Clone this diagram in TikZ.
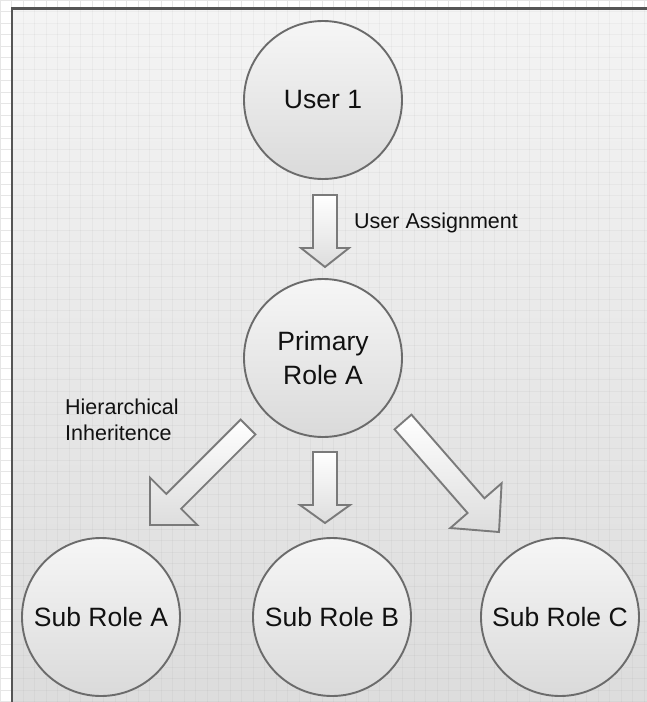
\documentclass[tikz,border=0pt]{standalone}
\usepackage{fontspec}
\setmainfont{Liberation Sans}
\usetikzlibrary{calc}

\definecolor{gridpale}{HTML}{E6E6E6}
\definecolor{paneltop}{HTML}{F4F4F4}
\definecolor{panelbottom}{HTML}{DCDCDC}
\definecolor{frameline}{HTML}{555555}
\definecolor{circleline}{HTML}{6B6B6B}
\definecolor{circletop}{HTML}{F6F6F6}
\definecolor{circlebottom}{HTML}{DADADA}
\definecolor{arrowline}{HTML}{7A7A7A}
\definecolor{arrowbottom}{HTML}{DDDDDD}
\definecolor{ink}{HTML}{111111}

\tikzset{
  role/.style={circle, draw=circleline, line width=1.9pt, minimum size=158pt,
    inner sep=0pt, top color=circletop, bottom color=circlebottom,
    font=\fontsize{26.5}{34}\selectfont, align=center, text=ink},
  lbl/.style={font=\fontsize{21.5}{26}\selectfont, align=left,
    inner sep=0pt, anchor=west, text=ink},
  blockarrow/.style={draw=arrowline, line width=1.9pt, line join=miter,
    top color=white, bottom color=arrowbottom},
  gridout/.style={draw=gridpale, line width=0.8pt},
  gridin/.style={draw=black, draw opacity=0.03, line width=0.8pt},
}

% hollow block arrow: tail, tip, shaft half width, head half width, head length
\newcommand\hollowarrow[5]{%
  \coordinate (hb) at ($(#2)!#5!(#1)$);
  \draw[blockarrow] ($(#1)!#3!90:(#2)$) -- ($(hb)!#3!-90:(#1)$)
    -- ($(hb)!#4!-90:(#1)$) -- (#2) -- ($(hb)!#4!90:(#1)$)
    -- ($(hb)!#3!90:(#1)$) -- ($(#1)!#3!-90:(#2)$) -- cycle;
}

\begin{document}
\begin{tikzpicture}[x=1pt, y=-1pt]
  \useasboundingbox (0,0) rectangle (647,702);
  \clip (0,0) rectangle (647,702);

  % page background with its grid
  \fill[white] (0,0) rectangle (647,702);
  \foreach \i in {0,...,57} \draw[gridout] ({\i*11.5},0) -- ({\i*11.5},702);
  \foreach \j in {0,...,62} \draw[gridout] (0,{\j*11.5}) -- (647,{\j*11.5});

  % the panel
  \shade[top color=paneltop, bottom color=panelbottom] (12,8.5) rectangle (660,715);
  \foreach \i in {2,...,57} \draw[gridin] ({\i*11.5},9) -- ({\i*11.5},702);
  \foreach \j in {1,...,62} \draw[gridin] (12,{\j*11.5}) -- (647,{\j*11.5});
  \draw[frameline, line width=2.6pt] (12,720) -- (12,8.5) -- (660,8.5);

  % roles
  \node[role] (user)    at (323,100) {User 1};
  \node[role] (primary) at (323,358) {Primary\\Role A};
  \node[role] (subA)    at (101,617) {Sub Role A};
  \node[role] (subB)    at (332,617) {Sub Role B};
  \node[role] (subC)    at (560,617) {Sub Role C};

  % arrow end points
  \coordinate (assignTail) at (325,195);
  \coordinate (assignTip)  at (325,267);
  \coordinate (inhATail)   at (248,427);
  \coordinate (inhATip)    at (150,525);
  \coordinate (inhBTail)   at (325,452);
  \coordinate (inhBTip)    at (325,523);
  \coordinate (inhCTail)   at (403,422);
  \coordinate (inhCTip)    at (499,532);

  \hollowarrow{assignTail}{assignTip}{12pt}{24pt}{19pt}
  \hollowarrow{inhATail}{inhATip}{10.5pt}{33.5pt}{33.5pt}
  \hollowarrow{inhBTail}{inhBTip}{12pt}{25pt}{18pt}
  \hollowarrow{inhCTail}{inhCTip}{11.2pt}{34pt}{35pt}

  % labels
  \node[lbl] (assignLabel) at (354,223) {User Assignment};
  \node[lbl] (inhLabel)    at (65,420) {Hierarchical\\Inheritence};
\end{tikzpicture}
\end{document}
